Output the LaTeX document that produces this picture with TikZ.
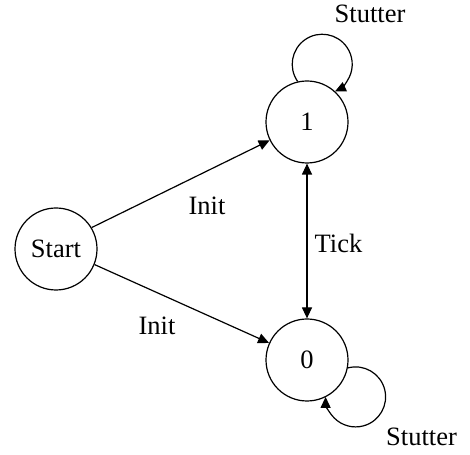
\documentclass[tikz,border=0pt]{standalone}
\usepackage{fontspec}
\setmainfont{Liberation Serif}
\usetikzlibrary{arrows.meta}
\begin{document}
\begin{tikzpicture}[x=1pt,y=1pt,
  state/.style={draw, circle, line width=1.2pt, minimum size=82pt, inner sep=0pt, font=\fontsize{26.5}{31}\selectfont},
  lbl/.style={inner sep=0pt, font=\fontsize{26.5}{31}\selectfont},
  conn/.style={line width=1.2pt, -{Triangle[length=11pt,width=10pt]}},
  both/.style={line width=1.2pt, {Triangle[length=11pt,width=10pt]}-{Triangle[length=11pt,width=10pt]}}]
\useasboundingbox (0,0) rectangle (470,454);
\node[state] (S) at (56,205) {Start};
\node[state] (n1) at (307,332) {1};
\node[state] (n0) at (307,94) {0};
\draw[conn] (S.31) -- (n1);
\draw[conn] (S.-22) -- (n0);
\draw[both] (n1) -- (n0);
\draw[conn] (n1.103) arc[start angle=215, end angle=-65, radius=30];
\draw[conn] (n0.-11) arc[start angle=105, end angle=-180, radius=30];
\node[lbl] (l1) at (207,248) {Init};
\node[lbl] (l2) at (157,128) {Init};
\node[lbl] (l3) at (338.5,211) {Tick};
\node[lbl] (l4) at (370,440) {Stutter};
\node[lbl] (l5) at (421.5,17) {Stutter};
\end{tikzpicture}
\end{document}
